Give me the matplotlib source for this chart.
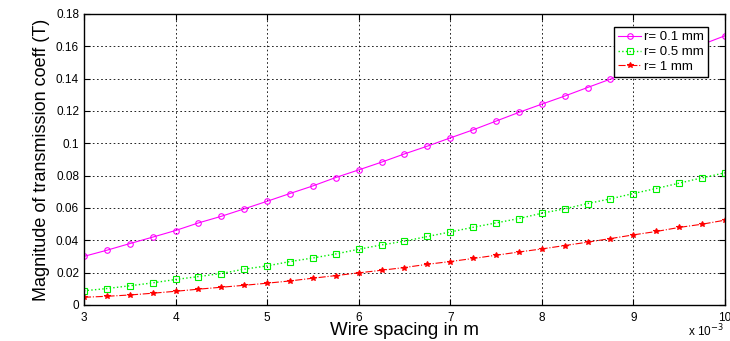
import numpy as np
import matplotlib.pyplot as plt

plt.rcParams['font.family'] = ['Liberation Sans', 'DejaVu Sans']

# wire spacing in m (3 mm .. 10 mm, step 0.25 mm)
spacing = np.linspace(3e-3, 10e-3, 29)

# magnitude of transmission coefficient
r01 = [0.0300, 0.0338, 0.0379, 0.0419, 0.0460, 0.0507, 0.0548, 0.0594, 0.0641, 0.0689,
       0.0736, 0.0788, 0.0835, 0.0883, 0.0934, 0.0982, 0.1033, 0.1083, 0.1137, 0.1191,
       0.1242, 0.1292, 0.1345, 0.1397, 0.1450, 0.1503, 0.1557, 0.1611, 0.1665]
r05 = [0.0087, 0.0101, 0.0118, 0.0136, 0.0157, 0.0175, 0.0194, 0.0221, 0.0241, 0.0268,
       0.0290, 0.0315, 0.0344, 0.0371, 0.0394, 0.0423, 0.0451, 0.0480, 0.0507, 0.0534,
       0.0567, 0.0594, 0.0627, 0.0656, 0.0689, 0.0720, 0.0753, 0.0786, 0.0817]
r1 = [0.0047, 0.0053, 0.0061, 0.0072, 0.0084, 0.0097, 0.0109, 0.0121, 0.0134, 0.0148,
      0.0165, 0.0181, 0.0198, 0.0214, 0.0231, 0.0251, 0.0268, 0.0287, 0.0307, 0.0327,
      0.0346, 0.0367, 0.0388, 0.0410, 0.0433, 0.0454, 0.0479, 0.0499, 0.0524]

xticks = [3, 4, 5, 6, 7, 8, 9, 10]
yticks = [0, 0.02, 0.04, 0.06, 0.08, 0.1, 0.12, 0.14, 0.16, 0.18]
ylabels = ['0', '0.02', '0.04', '0.06', '0.08', '0.1', '0.12', '0.14', '0.16', '0.18']

fig = plt.figure(figsize=(7.3, 3.41), dpi=100)
ax = fig.add_axes([0.115, 0.106, 0.878, 0.853])

ax.plot(spacing, r01, '-o', color='#ff00ff', lw=0.8, ms=4, mfc='none', mew=0.8, label='r= 0.1 mm')
ax.plot(spacing, r05, ':s', color='#00ee00', lw=1.0, ms=4, mfc='none', mew=0.8, label='r= 0.5 mm')
ax.plot(spacing, r1, '-.*', color='#ff0000', lw=0.8, ms=4, mew=0.8, label='r= 1 mm')

ax.set_xlim(3e-3, 10e-3)
ax.set_ylim(0, 0.18)
ax.set_xticks([t * 1e-3 for t in xticks])
ax.set_xticklabels([str(t) for t in xticks])
ax.set_yticks(yticks)
ax.set_yticklabels(ylabels)
ax.tick_params(direction='in', labelsize=8.5, length=4, width=0.8, top=True, right=True)
ax.tick_params(axis='x', pad=5)
ax.grid(True, color='black', linestyle=(0, (2, 3)), linewidth=0.6)
for s in ax.spines.values():
    s.set_linewidth(1.0)

ax.set_xlabel('Wire spacing in m', fontsize=13.5, labelpad=-1)
ax.set_ylabel('Magnitude of transmission coeff (T)', fontsize=13, labelpad=4)
fig.text(724 / 730, 2 / 341, 'x 10$^{-3}$', ha='right', va='bottom', fontsize=8.5)

leg = ax.legend(loc='upper right', fontsize=9.5, fancybox=False, framealpha=1,
                edgecolor='black', borderpad=0.3, labelspacing=0.2, handlelength=1.8,
                handletextpad=0.2, borderaxespad=0.0, bbox_to_anchor=(0.9735, 0.955))
leg.get_frame().set_linewidth(1.0)

fig.savefig('out.png', dpi=100)
